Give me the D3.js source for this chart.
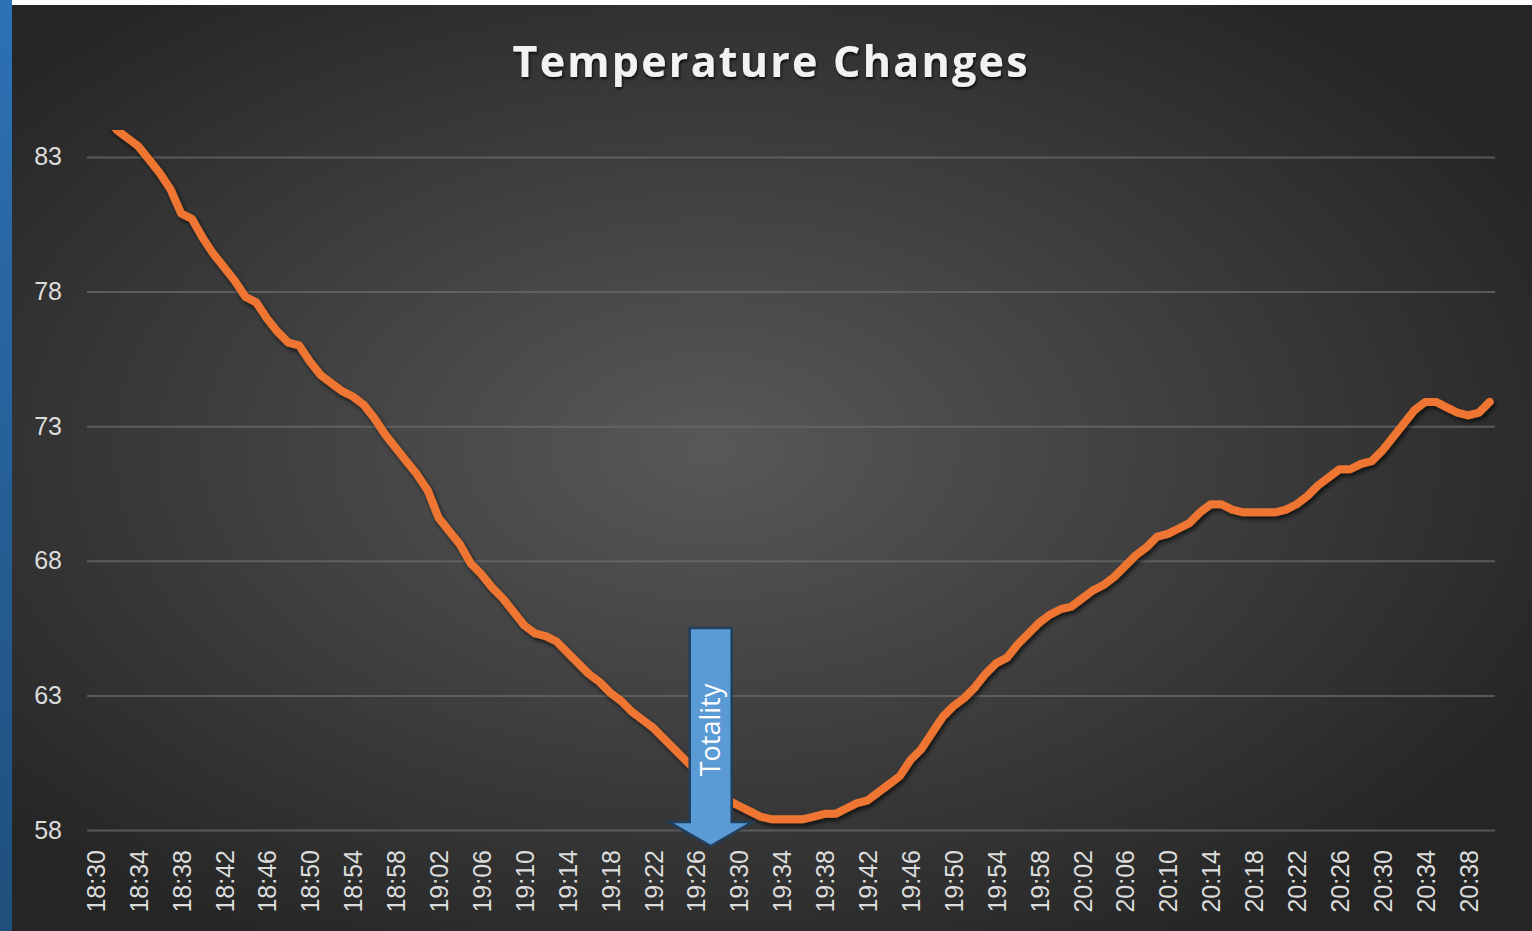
<!DOCTYPE html>
<html>
<head>
<meta charset="utf-8">
<script src="https://cdn.jsdelivr.net/npm/d3@7"></script>
<style>
  html, body { margin: 0; padding: 0; background: #ffffff; }
  svg { display: block; }
</style>
</head>
<body>
<svg id="chart" width="1532" height="931"></svg>
<script>
// minute-by-minute readings, 18:30 to 20:40
const times = [
  '18:30', '18:31', '18:32', '18:33', '18:34', '18:35', '18:36', '18:37', '18:38', '18:39',
  '18:40', '18:41', '18:42', '18:43', '18:44', '18:45', '18:46', '18:47', '18:48', '18:49',
  '18:50', '18:51', '18:52', '18:53', '18:54', '18:55', '18:56', '18:57', '18:58', '18:59',
  '19:00', '19:01', '19:02', '19:03', '19:04', '19:05', '19:06', '19:07', '19:08', '19:09',
  '19:10', '19:11', '19:12', '19:13', '19:14', '19:15', '19:16', '19:17', '19:18', '19:19',
  '19:20', '19:21', '19:22', '19:23', '19:24', '19:25', '19:26', '19:27', '19:28', '19:29',
  '19:30', '19:31', '19:32', '19:33', '19:34', '19:35', '19:36', '19:37', '19:38', '19:39',
  '19:40', '19:41', '19:42', '19:43', '19:44', '19:45', '19:46', '19:47', '19:48', '19:49',
  '19:50', '19:51', '19:52', '19:53', '19:54', '19:55', '19:56', '19:57', '19:58', '19:59',
  '20:00', '20:01', '20:02', '20:03', '20:04', '20:05', '20:06', '20:07', '20:08', '20:09',
  '20:10', '20:11', '20:12', '20:13', '20:14', '20:15', '20:16', '20:17', '20:18', '20:19',
  '20:20', '20:21', '20:22', '20:23', '20:24', '20:25', '20:26', '20:27', '20:28', '20:29',
  '20:30', '20:31', '20:32', '20:33', '20:34', '20:35', '20:36', '20:37', '20:38', '20:39',
  '20:40',
];

const temps = [
  84.6, 84.5, 84.0, 83.7, 83.4, 82.9, 82.4, 81.8, 80.9, 80.7,
  80.0, 79.4, 78.9, 78.4, 77.8, 77.6, 77.0, 76.5, 76.1, 76.0,
  75.4, 74.9, 74.6, 74.3, 74.1, 73.8, 73.3, 72.7, 72.2, 71.7,
  71.2, 70.6, 69.6, 69.1, 68.6, 67.9, 67.5, 67.0, 66.6, 66.1,
  65.6, 65.3, 65.2, 65.0, 64.6, 64.2, 63.8, 63.5, 63.1, 62.8,
  62.4, 62.1, 61.8, 61.4, 61.0, 60.6, 60.2, 59.8, 59.5, 59.1,
  58.9, 58.7, 58.5, 58.4, 58.4, 58.4, 58.4, 58.5, 58.6, 58.6,
  58.8, 59.0, 59.1, 59.4, 59.7, 60.0, 60.6, 61.0, 61.6, 62.2,
  62.6, 62.9, 63.3, 63.8, 64.2, 64.4, 64.9, 65.3, 65.7, 66.0,
  66.2, 66.3, 66.6, 66.9, 67.1, 67.4, 67.8, 68.2, 68.5, 68.9,
  69.0, 69.2, 69.4, 69.8, 70.1, 70.1, 69.9, 69.8, 69.8, 69.8,
  69.8, 69.9, 70.1, 70.4, 70.8, 71.1, 71.4, 71.4, 71.6, 71.7,
  72.1, 72.6, 73.1, 73.6, 73.9, 73.9, 73.7, 73.5, 73.4, 73.5,
  73.9,
];

const yTicks = [58, 63, 68, 73, 78, 83];
const yDomain = [58, 84];

const chartTitle = 'Temperature Changes';

// the "Totality" callout arrow
const arrowLabel = 'Totality';
const arrowTime = '19:27';
const arrowTop = 65.5;
const arrowBase = 58.3;
const arrowTip = 57.4;

const svg = d3.select('#chart');
const W = +svg.attr('width');
const H = +svg.attr('height');

const margin = { top: 130, right: 37, bottom: 101, left: 90 };
const plotW = W - margin.left - margin.right;
const plotH = H - margin.top - margin.bottom;

const defs = svg.append('defs');

const bg = defs.append('radialGradient')
  .attr('id', 'bg')
  .attr('cx', '46%').attr('cy', '48%').attr('r', '62%');
bg.append('stop').attr('offset', '0%').attr('stop-color', '#585858');
bg.append('stop').attr('offset', '100%').attr('stop-color', '#252525');

const strip = defs.append('linearGradient')
  .attr('id', 'strip').attr('x1', 0).attr('y1', 0).attr('x2', 0).attr('y2', 1);
strip.append('stop').attr('offset', '0%').attr('stop-color', '#2d71b4');
strip.append('stop').attr('offset', '100%').attr('stop-color', '#1f4f7c');

const shadow = defs.append('filter')
  .attr('id', 'shadow')
  .attr('x', '-5%').attr('y', '-5%').attr('width', '110%').attr('height', '110%');
shadow.append('feDropShadow')
  .attr('dx', 2).attr('dy', 3).attr('stdDeviation', 2)
  .attr('flood-color', '#000').attr('flood-opacity', 0.65);

const titleShadow = defs.append('filter').attr('id', 'titleShadow');
titleShadow.append('feDropShadow')
  .attr('dx', 1).attr('dy', 2).attr('stdDeviation', 1.5)
  .attr('flood-color', '#000').attr('flood-opacity', 0.8);

defs.append('clipPath').attr('id', 'plotClip')
  .append('rect')
  .attr('x', margin.left - 10).attr('y', margin.top)
  .attr('width', plotW + 20).attr('height', plotH + 20);

// slide background
svg.append('rect').attr('width', W).attr('height', H).attr('fill', '#ffffff');
svg.append('rect').attr('x', 12).attr('y', 5).attr('width', W - 12).attr('height', H - 5).attr('fill', 'url(#bg)');
svg.append('rect').attr('x', 0).attr('y', 0).attr('width', 12).attr('height', H).attr('fill', 'url(#strip)');

const x = d3.scalePoint()
  .domain(times)
  .range([margin.left, margin.left + plotW])
  .padding(0.5);

const y = d3.scaleLinear()
  .domain(yDomain)
  .range([margin.top + plotH, margin.top]);

// gridlines
svg.append('g')
  .attr('transform', `translate(${margin.left - 3},0)`)
  .call(d3.axisLeft(y).tickValues(yTicks).tickSize(-(plotW + 3)).tickFormat(''))
  .call(g => g.select('.domain').remove())
  .selectAll('line')
  .attr('stroke', '#6a6a6a')
  .attr('stroke-opacity', 0.75)
  .attr('stroke-width', 2);

// y labels
svg.append('g')
  .attr('transform', 'translate(62,0)')
  .call(d3.axisLeft(y).tickValues(yTicks).tickSize(0).tickPadding(0))
  .call(g => g.select('.domain').remove())
  .selectAll('text')
  .attr('fill', '#dcdcdc')
  .style('font-family', '"Liberation Sans", Arial, sans-serif')
  .style('font-size', '25px');

// x labels, one every four minutes
svg.append('g')
  .attr('transform', `translate(0,${margin.top + plotH})`)
  .call(d3.axisBottom(x).tickValues(times.filter((d, i) => i % 4 === 0)).tickSize(0).tickPadding(0))
  .call(g => g.select('.domain').remove())
  .selectAll('text')
  .attr('fill', '#dcdcdc')
  .style('font-family', '"Liberation Sans", Arial, sans-serif')
  .style('font-size', '25px')
  .attr('text-anchor', 'end')
  .attr('transform', 'rotate(-90)')
  .attr('x', -20)
  .attr('y', 0)
  .attr('dy', '0.36em');

// temperature line
const line = d3.line()
  .x((d, i) => x(times[i]))
  .y(d => y(d));

svg.append('g')
  .attr('clip-path', 'url(#plotClip)')
  .append('path')
  .datum(temps)
  .attr('d', line)
  .attr('fill', 'none')
  .attr('stroke', '#ee7630')
  .attr('stroke-width', 8)
  .attr('stroke-linejoin', 'round')
  .attr('stroke-linecap', 'round')
  .attr('filter', 'url(#shadow)');

// title
svg.append('text')
  .attr('x', 770)
  .attr('y', 77)
  .attr('text-anchor', 'middle')
  .attr('fill', '#f2f2f2')
  .attr('textLength', 515)
  .attr('lengthAdjust', 'spacing')
  .style('font-family', '"Open Sans", sans-serif')
  .style('font-weight', 'bold')
  .style('font-size', '43px')
  .attr('filter', 'url(#titleShadow)')
  .text(chartTitle);

// totality arrow
const ax = x(arrowTime) + 4;
const shaft = 21;
const head = 42;
const yTop = y(arrowTop);
const yBase = y(arrowBase);
const yTip = y(arrowTip);
const arrowPath = d3.path();
arrowPath.moveTo(ax - shaft, yTop);
arrowPath.lineTo(ax + shaft, yTop);
arrowPath.lineTo(ax + shaft, yBase);
arrowPath.lineTo(ax + head, yBase);
arrowPath.lineTo(ax, yTip);
arrowPath.lineTo(ax - head, yBase);
arrowPath.lineTo(ax - shaft, yBase);
arrowPath.closePath();

svg.append('path')
  .attr('d', arrowPath.toString())
  .attr('fill', '#5b9bd5')
  .attr('stroke', '#223f5e')
  .attr('stroke-width', 2.5)
  .attr('stroke-linejoin', 'miter');

svg.append('text')
  .attr('transform', `translate(${ax},${(yTop + yBase) / 2 + 5}) rotate(-90)`)
  .attr('text-anchor', 'middle')
  .attr('dy', '0.35em')
  .attr('fill', '#ffffff')
  .style('font-family', '"Open Sans", sans-serif')
  .style('font-size', '27px')
  .text(arrowLabel);
</script>
</body>
</html>
